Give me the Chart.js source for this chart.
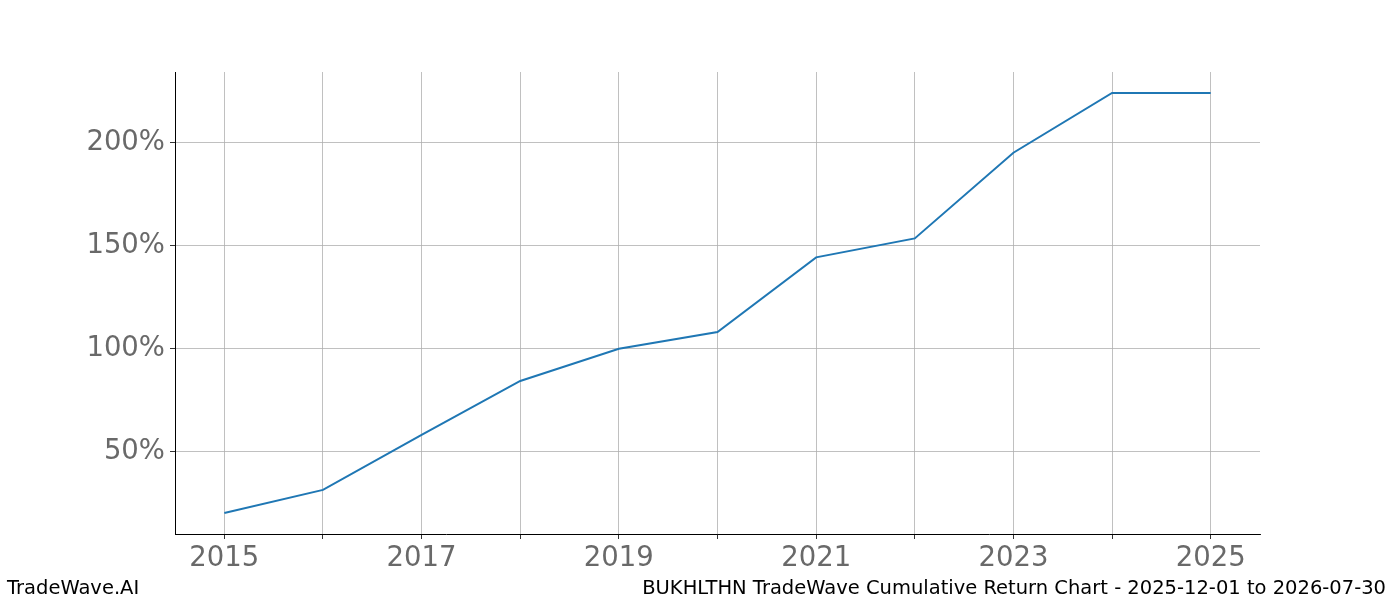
<!DOCTYPE html>
<html>
<head>
<meta charset="utf-8">
<script src="https://cdn.jsdelivr.net/npm/chart.js@4.4.0/dist/chart.umd.min.js"></script>
<style>
  body { margin: 0; background: #fff; }
  #wrap { position: relative; width: 1400px; height: 600px; font-family: "DejaVu Sans", sans-serif; }
  #wrap canvas { position: absolute; left: 0; top: 0; }
  .foot { position: absolute; top: 576px; font-size: 19.5px; color: #000; white-space: nowrap; line-height: 24px; }
</style>
</head>
<body>
<div id="wrap">
  <canvas id="chart" width="1400" height="600"></canvas>
  <div class="foot" style="left:7px;">TradeWave.AI</div>
  <div class="foot" style="right:14px;">BUKHLTHN TradeWave Cumulative Return Chart - 2025-12-01 to 2026-07-30</div>
</div>
<script>
  // values
  const years = [2015, 2016, 2017, 2018, 2019, 2020, 2021, 2022, 2023, 2024, 2025];
  const cumReturn = [20.2, 31.4, 58.1, 84.3, 99.9, 108.1, 144.3, 153.5, 195.1, 224.1, 224.1];
  const xTickLabels = ["2015", "2017", "2019", "2021", "2023", "2025"];
  const yTicks = [50, 100, 150, 200];

  const tickFont = { family: "DejaVu Sans", size: 27.5 };

  new Chart(document.getElementById("chart"), {
    type: "line",
    data: {
      datasets: [
        {
          label: "Cumulative Return",
          data: years.map((y, i) => ({ x: y, y: cumReturn[i] })),
          borderColor: "#1f77b4",
          borderWidth: 2,
          pointRadius: 0,
          tension: 0,
          fill: false,
        },
      ],
    },
    options: {
      responsive: false,
      animation: false,
      devicePixelRatio: 1,
      layout: { padding: { top: 72, right: 140, left: 0, bottom: 0 } },
      plugins: { legend: { display: false }, tooltip: { enabled: false } },
      scales: {
        x: {
          type: "linear",
          min: 2014.5,
          max: 2025.5,
          afterBuildTicks: (scale) => {
            scale.ticks = years.map((v) => ({ value: v }));
          },
          afterFit: (scale) => {
            scale.height = 66;
          },
          border: { color: "#000", width: 1 },
          grid: { color: "#b0b0b0", lineWidth: 0.8, tickColor: "#000", tickLength: 5 },
          ticks: {
            autoSkip: false,
            maxRotation: 0,
            padding: 3,
            color: "#696969",
            font: tickFont,
            callback: (v) => (xTickLabels.includes(String(v)) ? String(v) : ""),
          },
        },
        y: {
          min: 10,
          max: 234.3,
          afterBuildTicks: (scale) => {
            scale.ticks = yTicks.map((v) => ({ value: v }));
          },
          afterFit: (scale) => {
            scale.width = 175;
          },
          border: { color: "#000", width: 1 },
          grid: { color: "#b0b0b0", lineWidth: 0.8, tickColor: "#000", tickLength: 5 },
          ticks: {
            padding: 5,
            color: "#696969",
            font: tickFont,
            callback: (v) => v + "%",
          },
        },
      },
    },
  });
</script>
</body>
</html>
